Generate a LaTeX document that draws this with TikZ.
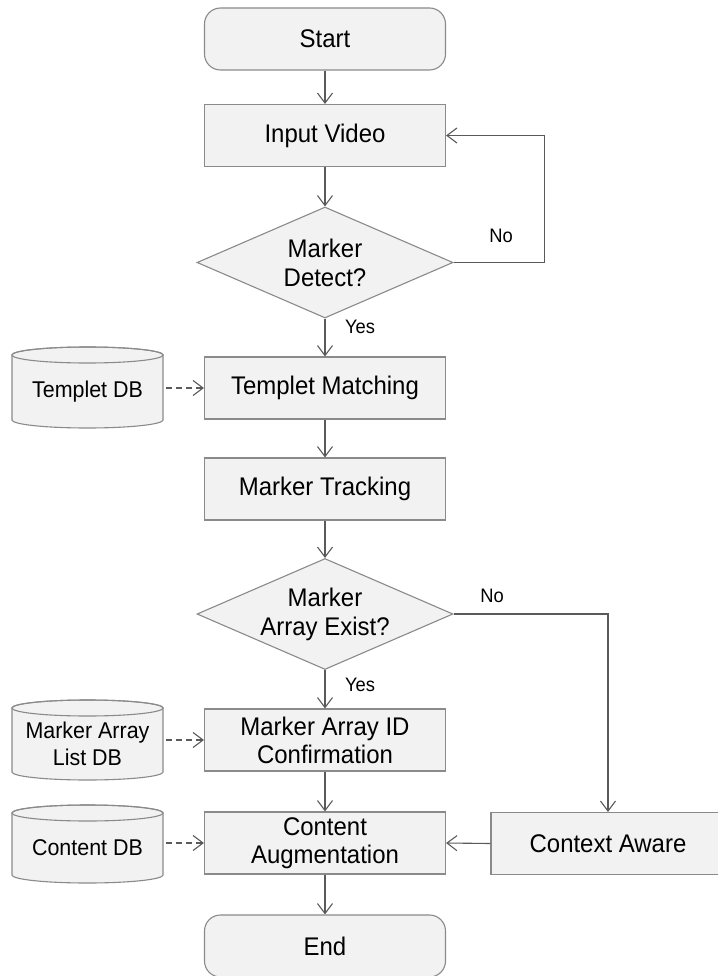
\documentclass[tikz,border=0pt]{standalone}
\usepackage{fontspec}
\setmainfont[FakeStretch=0.94]{Liberation Sans}
\usetikzlibrary{arrows.meta,shapes.geometric,backgrounds}

\definecolor{boxfill}{HTML}{F2F2F2}
\definecolor{boxline}{HTML}{8A8A8A}
\definecolor{arrowline}{HTML}{5A5A5A}

% draws a database drum behind a store node; the node spans from the
% centre of the top ellipse down to the bottom of the drum
\newcommand\dbdrum[1]{%
  \begin{scope}[on background layer]
    \filldraw[draw=boxline, fill=boxfill, line width=1.1pt]
      (#1.north west) -- ([yshift=8pt]#1.south west)
      arc[start angle=180, end angle=360, x radius=75.5pt, y radius=8pt]
      -- (#1.north east)
      arc[start angle=0, end angle=180, x radius=75.5pt, y radius=8pt] -- cycle;
    \draw[boxline, line width=1.1pt] (#1.north) ellipse [x radius=75.5pt, y radius=8pt];
  \end{scope}}

\begin{document}
\begin{tikzpicture}[x=1pt, y=-1pt,
  box/.style={draw=boxline, fill=boxfill, line width=1.1pt, minimum width=241pt,
    minimum height=62pt, inner sep=0pt, align=center,
    font=\fontsize{25.5}{28}\selectfont},
  term/.style={box, rounded corners=16pt},
  decision/.style={diamond, aspect=2.3, draw=boxline, fill=boxfill, line width=1.1pt,
    minimum width=256pt, minimum height=111pt, inner sep=0pt, align=center,
    font=\fontsize{25.5}{29}\selectfont},
  store/.style={minimum width=151pt, inner sep=0pt, outer sep=0pt, align=center,
    font=\fontsize{22.8}{27}\selectfont},
  flow/.style={draw=arrowline, line width=1.1pt,
    -{Straight Barb[length=10pt, width=15pt, line width=1.1pt]}},
  feed/.style={flow, dash pattern=on 6pt off 4pt, shorten <=3pt},
  lbl/.style={font=\fontsize{19.5}{21}\selectfont}
]
\useasboundingbox (0,0) rectangle (717,976);

% main column
\node[term] (start) at (325,39) {Start};
\node[box] (input) at (325,135.5) {Input Video};
\node[decision] (dec1) at (325,262.5) {Marker\\Detect?};
\node[box] (tmatch) at (325,388) {Templet Matching};
\node[box] (track) at (325,489) {Marker Tracking};
\node[decision] (dec2) at (325,614) {Marker\\Array Exist?};
\node[box] (maid) at (325,740) {Marker Array ID\\Confirmation};
\node[box] (aug) at (325,843) {Content\\Augmentation};
\node[term] (end) at (325,946) {End};
\node[box, minimum width=234pt] (ctx) at (608,843.5) {Context Aware};

% databases
\node[store, minimum height=73pt] (tdb) at (87.5,391.5) {Templet DB};
\dbdrum{tdb}
\node[store, minimum height=72pt] (madb) at (87.5,744) {Marker Array\\List DB};
\dbdrum{madb}
\node[store, minimum height=70pt] (cdb) at (87.5,848) {Content DB};
\dbdrum{cdb}

% flow
\draw[flow] (start) -- (input);
\draw[flow] (input) -- (dec1);
\draw[flow] (dec1) -- (tmatch);
\draw[flow] (tmatch) -- (track);
\draw[flow] (track) -- (dec2);
\draw[flow] (dec2) -- (maid);
\draw[flow] (maid) -- (aug);
\draw[flow] (aug) -- (end);
\draw[flow] (dec1.east) -- ++(91pt,0) |- (input.east);
\draw[flow] (dec2.east) -| (ctx.north);
\draw[flow] (ctx.west) -- (aug.east);

% database feeds
\draw[feed] (tdb.east |- tmatch.west) -- (tmatch.west);
\draw[feed] (madb.east |- maid.west) -- (maid.west);
\draw[feed] (cdb.east |- aug.west) -- (aug.west);

% branch labels
\node[lbl] (yes1) at (360,327) {Yes};
\node[lbl] (no1) at (501,236) {No};
\node[lbl] (no2) at (492,596) {No};
\node[lbl] (yes2) at (360,685) {Yes};
\end{tikzpicture}
\end{document}
